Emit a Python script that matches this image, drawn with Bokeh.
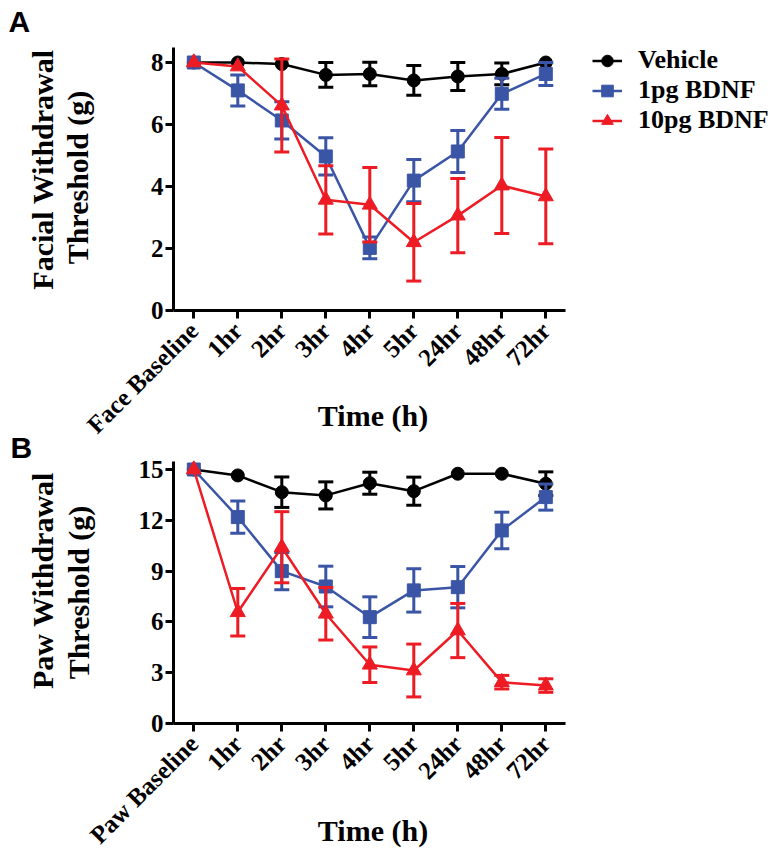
import math
from bokeh.plotting import figure
from bokeh.models import (ColumnDataSource, FixedTicker, Range1d, Label, Legend, LegendItem,
                          LinearAxis)
from bokeh.embed import file_html
from bokeh.resources import INLINE

# ---------------- data ----------------
time_index = [0, 1, 2, 3, 4, 5, 6, 7, 8]
face_labels = ["Face Baseline", "1hr", "2hr", "3hr", "4hr", "5hr", "24hr", "48hr", "72hr"]
paw_labels = ["Paw Baseline", "1hr", "2hr", "3hr", "4hr", "5hr", "24hr", "48hr", "72hr"]

series_names = ["Vehicle", "1pg BDNF", "10pg BDNF"]

face_vehicle = [8.0, 8.0, 7.95, 7.6, 7.63, 7.42, 7.55, 7.63, 8.0]
face_vehicle_err = [0, 0, 0, 0.4, 0.38, 0.48, 0.45, 0.35, 0]
face_1pg = [8.0, 7.1, 6.13, 4.97, 2.02, 4.19, 5.13, 6.99, 7.63]
face_1pg_err = [0, 0.5, 0.6, 0.6, 0.35, 0.68, 0.68, 0.5, 0.37]
face_10pg = [8.0, 7.87, 6.61, 3.57, 3.41, 2.2, 3.06, 4.03, 3.68]
face_10pg_err = [0, 0, 1.5, 1.1, 1.2, 1.25, 1.2, 1.55, 1.53]

paw_vehicle = [15.0, 14.65, 13.66, 13.47, 14.19, 13.72, 14.75, 14.75, 14.16]
paw_vehicle_err = [0, 0, 0.9, 0.8, 0.65, 0.83, 0, 0, 0.7]
paw_1pg = [15.0, 12.19, 9.0, 8.09, 6.28, 7.86, 8.05, 11.4, 13.37]
paw_1pg_err = [0, 0.95, 1.1, 1.2, 1.2, 1.28, 1.22, 1.08, 0.77]
paw_10pg = [15.0, 6.57, 10.41, 6.48, 3.47, 3.13, 5.49, 2.44, 2.24]
paw_10pg_err = [0, 1.4, 2.1, 1.55, 1.05, 1.56, 1.6, 0.4, 0.4]

face_yticks = [0, 2, 4, 6, 8]
paw_yticks = [0, 3, 6, 9, 12, 15]
face_ymax = 8.5
paw_ymax = 15.5

# ---------------- layout geometry (pixels) ----------------
W, H = 770, 858
X0_PX, X_PPU = 193.3, 44.0           # x position of first category, px per category
A_Y0_PX, A_PPU = 310.0, 31.0         # panel A: y=0 pixel row (from top), px per unit
B_Y0_PX, B_PPU = 723.0, 254.0 / 15   # panel B
X_LO, X_HI = -0.46, 8.45             # axis extents in category units

colors = ["#000000", "#3A55A5", "#ED1C24"]
markers = ["circle", "square", "triangle"]
marker_sizes = [13, 13, 15]
SERIF = "Liberation Serif"
SANS = "Liberation Sans"

p = figure(width=W, height=H, output_backend="svg", toolbar_location=None,
           x_axis_location=None, y_axis_location=None,
           x_range=Range1d(-X0_PX / X_PPU, (W - X0_PX) / X_PPU),
           y_range=Range1d((A_Y0_PX - H) / A_PPU, A_Y0_PX / A_PPU),
           min_border=0, min_border_left=0, min_border_right=0,
           min_border_top=0, min_border_bottom=0)
p.extra_y_ranges = {"paw": Range1d((B_Y0_PX - H) / B_PPU, B_Y0_PX / B_PPU)}
p.outline_line_color = None
p.grid.visible = False
p.background_fill_color = "white"
p.border_fill_color = "white"


def style_axis(ax, standoff):
    ax.axis_line_width = 3
    ax.axis_line_color = "black"
    ax.major_tick_line_width = 3
    ax.major_tick_line_color = "black"
    ax.major_tick_out = 8
    ax.major_tick_in = 0
    ax.minor_tick_line_color = None
    ax.major_label_text_font = SERIF
    ax.major_label_text_font_style = "bold"
    ax.major_label_text_font_size = "25px"
    ax.major_label_text_color = "black"
    ax.major_label_standoff = standoff


for rng, labels, yticks, ymax in ((None, face_labels, face_yticks, face_ymax),
                                  ("paw", paw_labels, paw_yticks, paw_ymax)):
    kw = {} if rng is None else {"y_range_name": rng}
    xa = LinearAxis(fixed_location=0, bounds=(X_LO, X_HI), ticker=FixedTicker(ticks=time_index),
                    major_label_overrides={i: lab for i, lab in zip(time_index, labels)},
                    major_label_orientation=math.pi / 4, **kw)
    style_axis(xa, 8)
    p.add_layout(xa, "below")
    ya = LinearAxis(fixed_location=X_LO, bounds=(0, ymax), ticker=FixedTicker(ticks=yticks), **kw)
    style_axis(ya, 2)
    p.add_layout(ya, "left")

legend_items = []
for rng, vals, errs in ((None, [face_vehicle, face_1pg, face_10pg],
                         [face_vehicle_err, face_1pg_err, face_10pg_err]),
                        ("paw", [paw_vehicle, paw_1pg, paw_10pg],
                         [paw_vehicle_err, paw_1pg_err, paw_10pg_err])):
    kw = {} if rng is None else {"y_range_name": rng}
    for name, y, e, c, m, s in zip(series_names, vals, errs, colors, markers, marker_sizes):
        lr = p.line(time_index, y, line_color=c, line_width=2.5, **kw)
        xs = [x for x, ee in zip(time_index, e) if ee > 0]
        ys = [v for v, ee in zip(y, e) if ee > 0]
        es = [ee for ee in e if ee > 0]
        src = ColumnDataSource(dict(x=xs, lo=[a - b for a, b in zip(ys, es)],
                                    hi=[a + b for a, b in zip(ys, es)]))
        p.segment(x0="x", y0="lo", x1="x", y1="hi", source=src, line_color=c, line_width=3, **kw)
        p.scatter("x", "hi", source=src, marker="dash", size=15, line_color=c, line_width=3, **kw)
        p.scatter("x", "lo", source=src, marker="dash", size=15, line_color=c, line_width=3, **kw)
        mr = p.scatter(time_index, y, marker=m, size=s, fill_color=c, line_color=c, **kw)
        if rng is None:
            legend_items.append(LegendItem(label=name, renderers=[lr, mr]))

leg = Legend(items=legend_items, location=(592, 723),
             label_text_font=SERIF, label_text_font_style="bold",
             label_text_font_size="26px", label_text_color="black",
             glyph_width=30, glyph_height=29, label_height=29,
             label_standoff=16, spacing=0, padding=0, margin=0,
             border_line_color=None, background_fill_alpha=0)
p.add_layout(leg)


def add_text(x, y, text, size, font=SERIF, angle=0.0, align="center"):
    p.add_layout(Label(x=x, y=y, x_units="screen", y_units="screen", text=text, angle=angle,
                       text_font=font, text_font_style="bold", text_font_size=size,
                       text_color="black", text_baseline="alphabetic", text_align=align))


add_text(8, 837, "A", "30px", font=SANS, align="left")
add_text(10, 411, "B", "30px", font=SANS, align="left")
add_text(42, 689, "Facial Withdrawal", "30px", angle=math.pi / 2)
add_text(77, 681, "Threshold (g)", "30px", angle=math.pi / 2)
add_text(42, 278, "Paw Withdrawal", "30px", angle=math.pi / 2)
add_text(78, 266, "Threshold (g)", "30px", angle=math.pi / 2)
add_text(372.5, 443, "Time (h)", "30px")
add_text(372.5, 28, "Time (h)", "30px")

open("out.html", "w").write(file_html(p, INLINE))
